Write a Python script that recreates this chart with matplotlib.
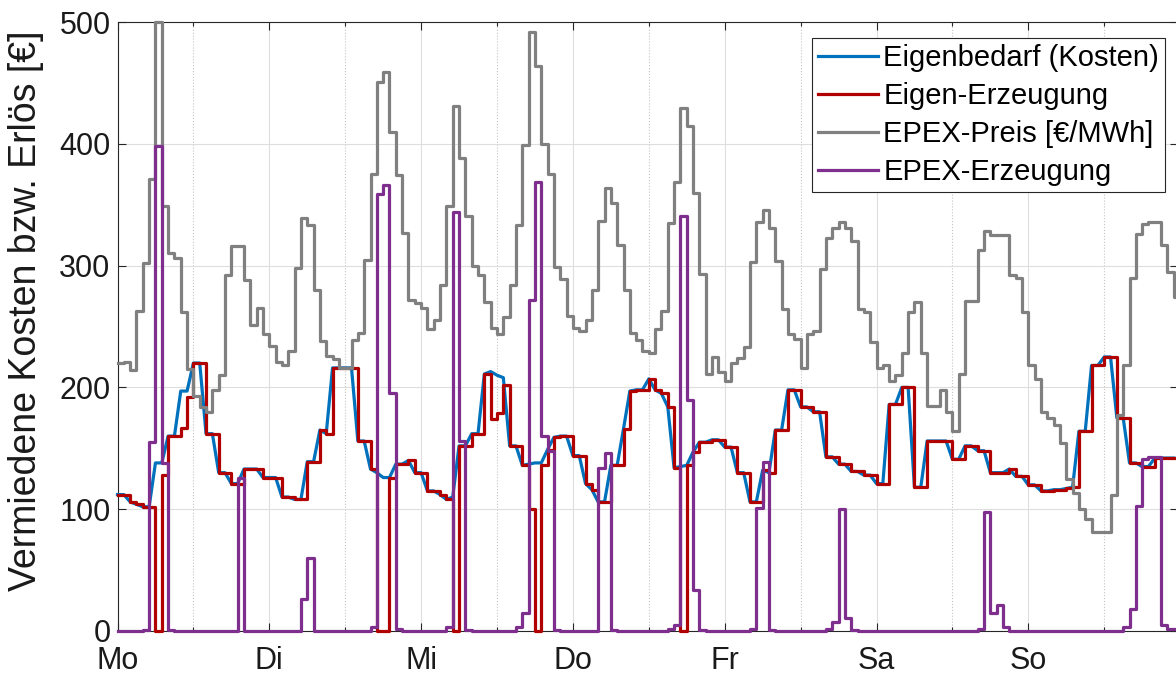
import numpy as np
import matplotlib
matplotlib.use("Agg")
import matplotlib.pyplot as plt

# Wochentage (Beschriftung alle 24 h)
days = ["Mo", "Di", "Mi", "Do", "Fr", "Sa", "So"]

# Stündliche Werte über eine Woche (168 h)
eigenbedarf = [
    112, 112, 106, 104, 102, 102, 138, 138, 160, 160, 197, 197,
    220, 220, 162, 162, 130, 130, 121, 121, 133, 133, 133, 126,
    126, 126, 110, 110, 108, 108, 139, 139, 165, 162, 216, 216,
    216, 216, 156, 156, 133, 130, 126, 126, 137, 137, 140, 130,
    130, 115, 115, 112, 108, 110, 152, 152, 162, 162, 211, 213,
    210, 208, 152, 152, 136, 137, 138, 138, 149, 159, 160, 160,
    144, 144, 121, 116, 106, 106, 136, 136, 166, 197, 198, 198,
    207, 198, 195, 184, 134, 135, 136, 147, 155, 155, 157, 157,
    151, 151, 130, 130, 106, 106, 132, 130, 165, 165, 198, 198,
    184, 184, 180, 180, 143, 143, 137, 137, 131, 131, 128, 128,
    121, 121, 186, 186, 200, 200, 118, 118, 156, 156, 156, 156,
    141, 141, 152, 152, 148, 148, 130, 130, 130, 133, 127, 127,
    120, 120, 115, 115, 116, 116, 117, 118, 164, 164, 218, 218,
    225, 225, 175, 175, 138, 138, 135, 135, 142, 142, 142, 142,
]

eigen_erzeugung = [
    112, 112, 106, 104, 102, 102, 0, 128, 160, 160, 167, 192,
    220, 220, 162, 162, 130, 130, 121, 121, 133, 133, 133, 126,
    126, 126, 110, 110, 108, 108, 139, 139, 165, 162, 216, 216,
    216, 216, 156, 156, 133, 0, 0, 126, 137, 137, 140, 130,
    130, 115, 115, 112, 108, 0, 152, 152, 162, 162, 211, 174,
    179, 202, 152, 152, 136, 100, 0, 136, 149, 159, 160, 160,
    144, 144, 121, 116, 106, 106, 136, 136, 166, 197, 198, 198,
    207, 198, 195, 184, 134, 0, 136, 147, 155, 155, 157, 157,
    151, 151, 130, 130, 106, 106, 132, 130, 165, 165, 198, 198,
    184, 184, 180, 180, 143, 143, 137, 137, 131, 131, 128, 128,
    121, 121, 186, 186, 200, 200, 118, 118, 156, 156, 156, 156,
    141, 141, 152, 152, 148, 148, 130, 130, 130, 133, 127, 127,
    120, 120, 115, 115, 116, 116, 117, 118, 164, 164, 218, 218,
    225, 225, 175, 175, 138, 138, 135, 135, 142, 142, 142, 142,
]

epex_preis = [
    220, 221, 214, 263, 302, 371, 500, 349, 310, 306, 262, 215,
    193, 184, 180, 198, 210, 292, 316, 316, 288, 251, 265, 244,
    234, 221, 218, 230, 298, 339, 333, 280, 238, 226, 223, 216,
    216, 239, 245, 305, 375, 451, 459, 410, 374, 327, 272, 269,
    265, 248, 255, 284, 349, 431, 388, 341, 300, 292, 270, 249,
    244, 258, 284, 333, 399, 492, 464, 400, 375, 299, 289, 259,
    249, 246, 255, 280, 337, 364, 351, 317, 280, 245, 239, 230,
    228, 248, 263, 335, 369, 429, 415, 360, 293, 211, 225, 213,
    205, 220, 224, 233, 303, 336, 346, 331, 304, 264, 244, 240,
    216, 244, 246, 297, 323, 331, 336, 331, 320, 264, 262, 237,
    216, 218, 205, 210, 228, 262, 270, 228, 185, 185, 198, 180,
    164, 211, 271, 271, 313, 328, 325, 325, 325, 292, 290, 262,
    218, 207, 180, 175, 169, 154, 125, 113, 100, 92, 81, 81,
    81, 112, 177, 218, 290, 326, 334, 336, 336, 317, 295, 274,
]

epex_erzeugung = [
    0, 0, 0, 0, 1, 155, 398, 138, 1, 0, 0, 0,
    0, 0, 0, 0, 0, 0, 0, 126, 0, 0, 0, 0,
    0, 0, 0, 0, 0, 26, 60, 0, 0, 0, 0, 0,
    0, 0, 0, 0, 3, 359, 366, 195, 2, 0, 0, 0,
    0, 0, 0, 0, 3, 344, 156, 1, 0, 0, 0, 0,
    0, 0, 0, 3, 15, 272, 369, 160, 148, 1, 0, 0,
    0, 0, 0, 0, 134, 146, 1, 0, 0, 0, 0, 0,
    0, 0, 0, 2, 5, 341, 190, 34, 1, 0, 0, 0,
    0, 0, 0, 0, 2, 101, 139, 1, 0, 0, 0, 0,
    0, 0, 0, 0, 2, 7, 100, 11, 1, 0, 0, 0,
    0, 0, 0, 0, 0, 0, 0, 0, 0, 0, 0, 0,
    0, 0, 0, 0, 2, 98, 15, 21, 3, 0, 0, 0,
    0, 0, 0, 0, 0, 0, 0, 0, 0, 0, 0, 0,
    0, 0, 0, 3, 18, 103, 141, 143, 143, 5, 2, 2,
]

plt.rcParams["font.family"] = ["Liberation Sans", "DejaVu Sans"]
plt.rcParams["axes.unicode_minus"] = False

W, H = 1176, 680
fig = plt.figure(figsize=(W / 100, H / 100), dpi=100)
ax_left, ax_right, ax_top, ax_bottom = 117.5, 1177.5, 22.0, 631.0
ax = fig.add_axes([ax_left / W, 1 - ax_bottom / H,
                   (ax_right - ax_left) / W, (ax_bottom - ax_top) / H])

hours = np.arange(len(eigenbedarf))
x_step = np.append(hours, hours[-1] + 1)


def step_values(vals):
    return np.append(vals, vals[-1])


lw = 2.3
ax.plot(hours, eigenbedarf, color="#0072BD", lw=lw, clip_on=False,
        label="Eigenbedarf (Kosten)", zorder=3)
ax.plot(x_step, step_values(eigen_erzeugung), drawstyle="steps-post",
        color="#B00000", lw=lw, clip_on=False, label="Eigen-Erzeugung", zorder=4)
ax.plot(x_step, step_values(epex_preis), drawstyle="steps-post",
        color="#808080", lw=lw, clip_on=False, label="EPEX-Preis [€/MWh]", zorder=5)
ax.plot(x_step, step_values(epex_erzeugung), drawstyle="steps-post",
        color="#7E2F8E", lw=lw, clip_on=False, label="EPEX-Erzeugung", zorder=6)

px_per_hour = 151.8 / 24
ax.set_xlim(0, (ax_right - ax_left) / px_per_hour)
ax.set_ylim(0, 500)

ax.set_xticks(np.arange(0, 168, 24))
ax.set_xticklabels(days)
ax.set_xticks(np.arange(12, 168, 24), minor=True)
ax.set_yticks(np.arange(0, 501, 100))

ax.tick_params(which="both", direction="in", top=True, right=True,
               colors="#262626", labelcolor="#1a1a1a")
ax.tick_params(which="major", length=6, width=0.8, labelsize=22)
ax.tick_params(which="minor", length=3, width=0.8)
ax.tick_params(axis="x", which="major", pad=11)
ax.tick_params(axis="y", which="major", pad=5)

ax.grid(which="major", color="#dedede", lw=0.8, ls="-")
ax.grid(which="minor", axis="x", color="#c4c4c4", lw=0.8, ls=":")
ax.set_axisbelow(True)

for sp in ax.spines.values():
    sp.set_color("#262626")
    sp.set_linewidth(0.8)

fig.text(26 / W, 1 - 311 / H, "Vermiedene Kosten bzw. Erlös [€]",
         rotation=90, va="center", ha="center", fontsize=27, color="#1a1a1a")

leg = ax.legend(loc="upper right",
                bbox_to_anchor=((1165 - ax_left) / (ax_right - ax_left),
                                (ax_bottom - 38.3) / (ax_bottom - ax_top)),
                fontsize=21, frameon=True, fancybox=False, framealpha=1,
                edgecolor="#262626", handlelength=2.05, handletextpad=0.2,
                borderpad=0.2, labelspacing=0.34, borderaxespad=0)
leg.get_frame().set_linewidth(0.8)
leg.set_zorder(10)

fig.savefig("out.png", dpi=100)
